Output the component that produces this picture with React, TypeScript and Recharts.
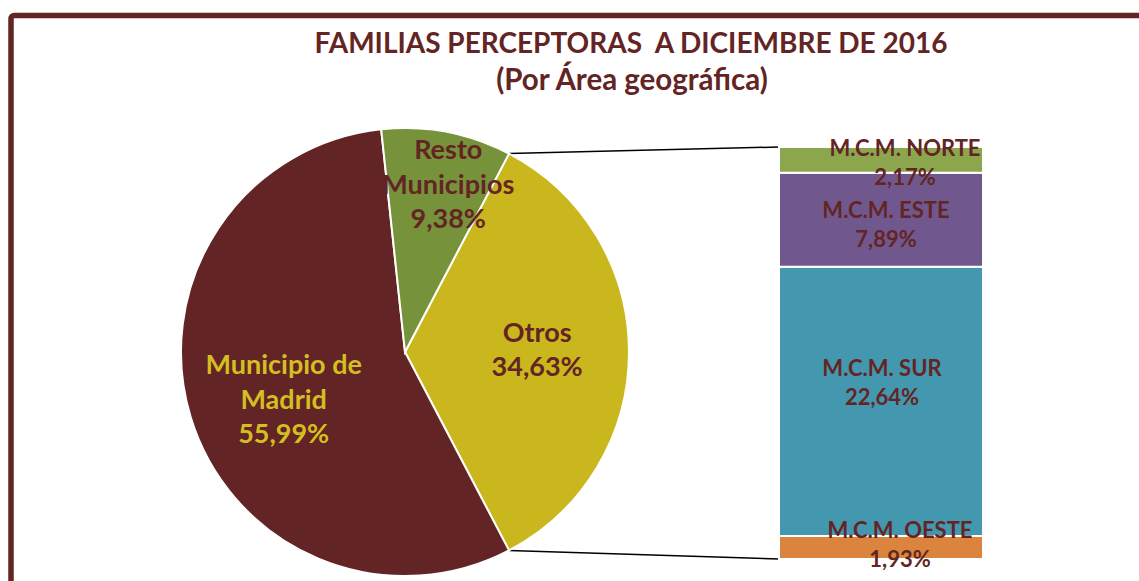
import React from 'react';
import { PieChart, Pie, Cell, BarChart, Bar, XAxis, YAxis, LabelList } from 'recharts';

// main pie (clockwise from the split slice)
const pieNames = ['Otros', 'Municipio de Madrid', 'Resto Municipios'];
const pieLabelLines = [['Otros'], ['Municipio de', 'Madrid'], ['Resto', 'Municipios']];
const pieValues = [34.63, 55.99, 9.38];
const pieColors = ['#CAB61D', '#622424', '#76923B'];
const pieTextColors = ['#632523', '#D4BE22', '#632523'];

// secondary stacked bar, bottom to top
const barNames = ['M.C.M. OESTE', 'M.C.M. SUR', 'M.C.M. ESTE', 'M.C.M. NORTE'];
const barKeys = ['oeste', 'sur', 'este', 'norte'];
const barValues = [1.93, 22.64, 7.89, 2.17];
const barColors = ['#DB843D', '#4397AF', '#70588F', '#8CA64E'];

const TITLE = 'FAMILIAS PERCEPTORAS  A DICIEMBRE DE 2016';
const SUBTITLE = '(Por Área geográfica)';

const W = 1139;
const H = 581;
const CX = 405;
const CY = 352;
const R = 224;
const BAR_LEFT = 779;
const BAR_TOP = 147;
const BAR_W = 204;
const BAR_H = 412;
const PAD = 30;
const DARK = '#632523';
const FONT = 'Lato, "Open Sans", sans-serif';

const fmt = (v: number) => v.toFixed(2).replace('.', ',') + '%';

const splitHalf = (pieValues[0] / 100) * 360 / 2;
const RAD = Math.PI / 180;

const pieData = pieNames.map((name, i) => ({ name, value: pieValues[i] }));
const barRow: Record<string, number | string> = { name: pieNames[0] };
barKeys.forEach((k, i) => { barRow[k] = barValues[i]; });
const barTotal = barValues.reduce((a, b) => a + b, 0);

// label placement tweaks, like the excel layout
const pieLabelRadius = [0.59, 0.58, 0.77];
const pieLabelNudge = [[0, -4], [3, 8], [11, 0]];
const barLabelNudge = [[19, -4], [1, -20], [5, 4], [24, 2]];

const PieLabel = (props: any) => {
  const { cx, cy, midAngle, outerRadius, index } = props;
  const r = outerRadius * pieLabelRadius[index];
  const x = cx + r * Math.cos(-midAngle * RAD) + pieLabelNudge[index][0];
  const y = cy + r * Math.sin(-midAngle * RAD) + pieLabelNudge[index][1];
  const lines = [...pieLabelLines[index], fmt(pieValues[index])];
  const lh = 34.5;
  const top = y - ((lines.length - 1) * lh) / 2;
  return (
    <text
      textAnchor="middle"
      dominantBaseline="central"
      fill={pieTextColors[index]}
      fontSize={27}
      fontWeight={700}
      fontFamily={FONT}
    >
      {lines.map((l, j) => (
        <tspan key={j} x={x} y={top + j * lh}>{l}</tspan>
      ))}
    </text>
  );
};

const makeBarLabel = (idx: number) => (props: any) => {
  const { x, y, width, height } = props;
  const cx = x + width / 2 + barLabelNudge[idx][0];
  const cy = y + height / 2 + barLabelNudge[idx][1];
  return (
    <text
      textAnchor="middle"
      dominantBaseline="central"
      fill={DARK}
      fontSize={22}
      fontWeight={700}
      fontFamily={FONT}
    >
      <tspan x={cx} y={cy - 14.5}>{barNames[idx]}</tspan>
      <tspan x={cx} y={cy + 14.5}>{fmt(barValues[idx])}</tspan>
    </text>
  );
};

const App = () => {
  const a = splitHalf * RAD;
  const p1 = { x: CX + R * Math.cos(a), y: CY - R * Math.sin(a) };
  const p2 = { x: CX + R * Math.cos(a), y: CY + R * Math.sin(a) };

  return (
    <div style={{ position: 'absolute', left: 0, top: 0, width: W, height: H, background: '#fff', overflow: 'hidden' }}>
      <svg width={W} height={H} style={{ position: 'absolute', left: 0, top: 0 }}>
        <rect x={11} y={15.5} width={1300} height={800} rx={3} fill="none" stroke={DARK} strokeWidth={5.5} />
        <text x={631} y={42} textAnchor="middle" dominantBaseline="central" fill={DARK} fontSize={28} fontWeight={700} fontFamily={FONT} style={{ whiteSpace: 'pre' }}>
          {TITLE}
        </text>
        <text x={632} y={78} textAnchor="middle" dominantBaseline="central" fill={DARK} fontSize={29.5} fontWeight={700} fontFamily={FONT}>
          {SUBTITLE}
        </text>
        <line x1={p1.x} y1={p1.y} x2={BAR_LEFT} y2={BAR_TOP} stroke="#000" strokeWidth={1.5} />
        <line x1={p2.x} y1={p2.y} x2={BAR_LEFT} y2={BAR_TOP + BAR_H} stroke="#000" strokeWidth={1.5} />
      </svg>

      <div style={{ position: 'absolute', left: 0, top: 0 }}>
        <PieChart width={W} height={H} margin={{ top: 0, right: 0, bottom: 0, left: 0 }}>
          <Pie
            data={pieData}
            dataKey="value"
            nameKey="name"
            cx={CX}
            cy={CY}
            outerRadius={R}
            startAngle={splitHalf}
            endAngle={splitHalf - 360}
            stroke="#fff"
            strokeWidth={2}
            label={PieLabel}
            labelLine={false}
            isAnimationActive={false}
          >
            {pieData.map((d, i) => (
              <Cell key={d.name} fill={pieColors[i]} />
            ))}
          </Pie>
        </PieChart>
      </div>

      <div style={{ position: 'absolute', left: BAR_LEFT - PAD, top: BAR_TOP - PAD }}>
        <BarChart
          width={BAR_W + PAD * 2}
          height={BAR_H + PAD * 2}
          data={[barRow]}
          margin={{ top: PAD, right: PAD, bottom: PAD, left: PAD }}
          barCategoryGap={0}
        >
          <XAxis dataKey="name" hide />
          <YAxis hide domain={[0, barTotal]} />
          {barKeys.map((k, i) => (
            <Bar key={k} dataKey={k} stackId="a" fill={barColors[i]} stroke="#fff" strokeWidth={2} isAnimationActive={false}>
              <LabelList content={makeBarLabel(i)} />
            </Bar>
          ))}
        </BarChart>
      </div>
    </div>
  );
};

export default App;
